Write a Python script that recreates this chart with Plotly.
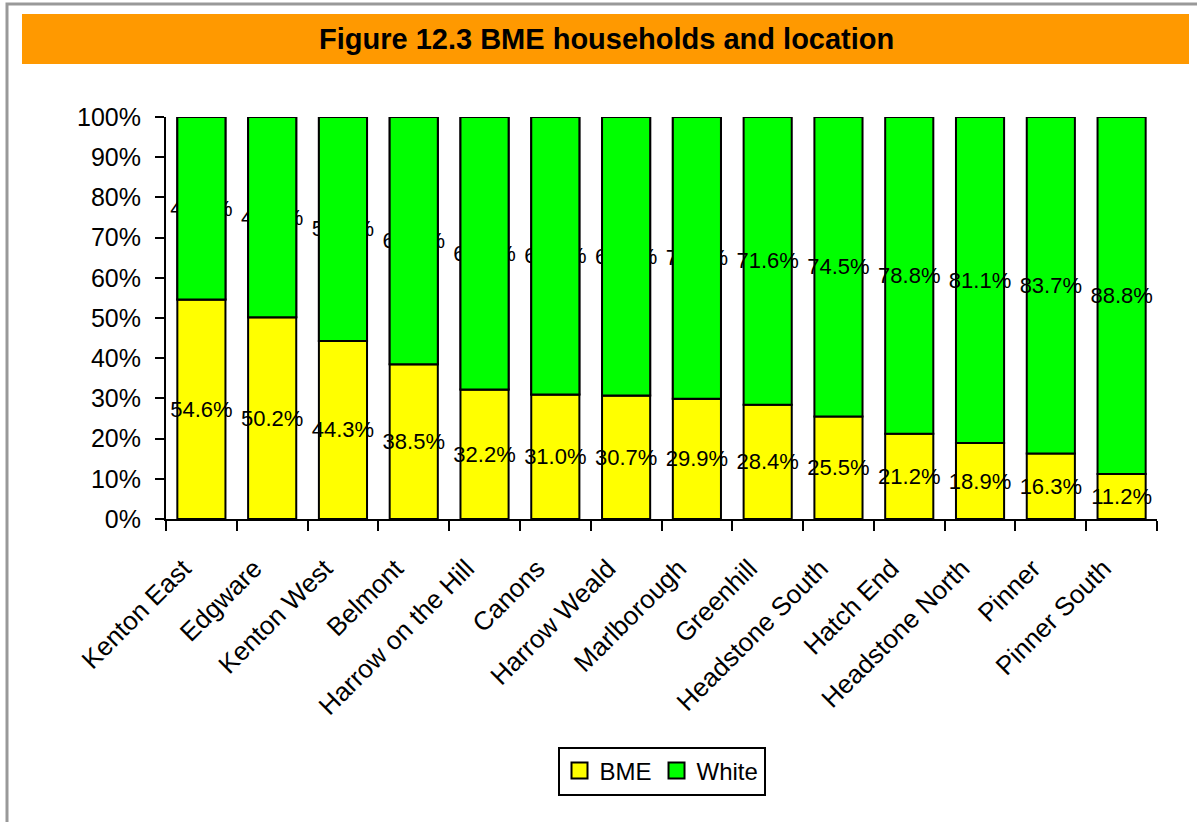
import plotly.graph_objects as go

wards = ["Kenton East", "Edgware", "Kenton West", "Belmont", "Harrow on the Hill",
         "Canons", "Harrow Weald", "Marlborough", "Greenhill", "Headstone South",
         "Hatch End", "Headstone North", "Pinner", "Pinner South"]
bme = [54.6, 50.2, 44.3, 38.5, 32.2, 31.0, 30.7, 29.9, 28.4, 25.5, 21.2, 18.9, 16.3, 11.2]
white = [45.4, 49.8, 55.7, 61.5, 67.8, 69.0, 69.3, 70.1, 71.6, 74.5, 78.8, 81.1, 83.7, 88.8]
# white labels that end up mostly hidden behind their own bar in the original
n_hidden = 8

FONT = "Liberation Sans, Arial, sans-serif"
YELLOW = "#FFFF00"
GREEN = "#00FF00"

# plot area in page pixels: x 166..1157, y 117..519
def px(x):
  return (x - 166) / 991
def py(y):
  return (519 - y) / 402

fig = go.Figure()
fig.add_trace(go.Bar(
  x=wards, y=bme, base=[0] * len(bme), name="BME", showlegend=False,
  marker={"color": YELLOW, "line": {"color": "black", "width": 2}},
  text=[f"{v:.1f}%" for v in bme], textposition="inside", insidetextanchor="middle",
  constraintext="none", textangle=0, insidetextfont={"color": "black", "size": 22, "family": FONT}))
fig.add_trace(go.Bar(
  x=wards, y=white, base=bme, name="White", showlegend=False,
  marker={"color": GREEN, "line": {"color": "black", "width": 2}},
  text=[f"{v:.1f}%" for v in white], textposition="inside", insidetextanchor="middle",
  constraintext="none", textangle=0, insidetextfont={"color": "black", "size": 22, "family": FONT}))
fig.add_trace(go.Bar(
  x=wards[:n_hidden], y=white[:n_hidden], base=bme[:n_hidden], showlegend=False,
  marker={"color": GREEN, "line": {"color": "black", "width": 2}}, hoverinfo="skip"))

# legend entries with bigger square swatches
for name, col in [("BME", YELLOW), ("White", GREEN)]:
  fig.add_trace(go.Scatter(
    x=[None], y=[None], mode="markers", name=name,
    marker={"symbol": "square", "size": 20, "color": col, "line": {"color": "black", "width": 2}}))

fig.update_layout(
  width=1197, height=822,
  margin={"l": 166, "r": 40, "t": 117, "b": 303},
  paper_bgcolor="white", plot_bgcolor="white",
  barmode="overlay", bargap=0.32,
  font={"family": FONT, "size": 24, "color": "black"},
  showlegend=True,
  legend={"orientation": "h", "x": 0.5, "xanchor": "center", "y": py(771), "yanchor": "middle",
          "bordercolor": "black", "borderwidth": 2, "bgcolor": "white",
          "font": {"size": 24, "family": FONT}, "traceorder": "normal", "itemsizing": "trace"},
  xaxis={"type": "category", "categoryorder": "array", "categoryarray": wards,
         "range": [-0.5, len(wards) - 0.5], "showline": True, "linecolor": "black", "linewidth": 2,
         "ticks": "outside", "ticklen": 10, "tickwidth": 2, "tickcolor": "black",
         "tickson": "boundaries", "tickangle": -45, "showgrid": False,
         "ticklabelshift": -18, "ticklabelstandoff": 22,
         "tickfont": {"size": 26, "family": FONT}},
  yaxis={"range": [0, 100], "dtick": 10, "ticksuffix": "%", "showline": True, "linecolor": "black",
         "linewidth": 2, "ticks": "outside", "ticklen": 9, "tickwidth": 2, "tickcolor": "black",
         "ticklabelstandoff": 9,
         "showgrid": False, "zeroline": False, "tickfont": {"size": 25, "family": FONT}},
  shapes=[
    {"type": "rect", "xref": "paper", "yref": "paper", "x0": px(7), "x1": px(1220),
     "y0": py(840), "y1": py(4), "line": {"color": "#999999", "width": 3}, "layer": "below"},
    {"type": "rect", "xref": "paper", "yref": "paper", "x0": px(22), "x1": px(1189),
     "y0": py(64), "y1": py(14), "fillcolor": "#FF9900", "line": {"width": 0}, "layer": "below"},
  ],
  annotations=[
    {"text": "<b>Figure 12.3 BME households and location</b>", "xref": "paper", "yref": "paper",
     "x": px(606), "y": py(39), "xanchor": "center", "yanchor": "middle", "showarrow": False,
     "font": {"size": 29, "family": FONT, "color": "black"}},
  ],
)

# drop the default 8px body margin so the figure fills the window
fig.write_html("out.html", config={"displayModeBar": False},
               post_script="document.body.style.margin='0';")
